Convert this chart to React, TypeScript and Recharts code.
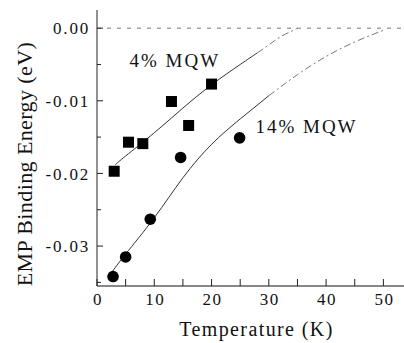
import React from 'react';
import { ComposedChart, XAxis, YAxis, Scatter, Line, ReferenceLine, ReferenceDot, Label } from 'recharts';

// Measured data (Temperature K, EMP binding energy eV)
const mqw4T = [3, 5.5, 8, 13, 16, 20];
const mqw4E = [-0.0197, -0.0157, -0.0159, -0.0101, -0.0134, -0.0077];
const mqw14T = [2.8, 5.0, 9.3, 14.6, 24.9];
const mqw14E = [-0.0342, -0.0315, -0.0263, -0.0178, -0.0151];

// Fit curves
const fit4SolidT = [3.2, 5, 10, 15, 20, 25, 28];
const fit4SolidE = [-0.0188, -0.0176, -0.0144, -0.011, -0.0078, -0.0050, -0.0034];
const fit4DashT = [28, 30, 32, 34, 35];
const fit4DashE = [-0.0034, -0.0023, -0.0012, -0.0004, 0.0];
const fit14SolidT = [2.5, 5, 10, 15, 20, 25, 30];
const fit14SolidE = [-0.0337, -0.0311, -0.0261, -0.0206, -0.0160, -0.0125, -0.0093];
const fit14DashT = [30, 35, 40, 45, 50];
const fit14DashE = [-0.0093, -0.0064, -0.0039, -0.0019, -0.0003];

const xTicks = [0, 5, 10, 15, 20, 25, 30, 35, 40, 45, 50];
const xLabels = ['0', '', '10', '', '20', '', '30', '', '40', '', '50'];
const yTicks = [0, -0.005, -0.01, -0.015, -0.02, -0.025, -0.03, -0.035];
const yLabels = ['0.00', '', '-0.01', '', '-0.02', '', '-0.03', ''];

const toRows = (ts: number[], es: number[]) => ts.map((t, i) => ({ t, e: es[i] }));
const pts4 = toRows(mqw4T, mqw4E);
const pts14 = toRows(mqw14T, mqw14E);
const f4s = toRows(fit4SolidT, fit4SolidE);
const f4d = toRows(fit4DashT, fit4DashE);
const f14s = toRows(fit14SolidT, fit14SolidE);
const f14d = toRows(fit14DashT, fit14DashE);

const FONT = "'Liberation Serif', 'DejaVu Serif', serif";

const YTick = (props: any) => {
  const { x, y, payload } = props;
  const idx = yTicks.indexOf(payload.value);
  const lab = idx >= 0 ? yLabels[idx] : '';
  const ax = x + 8;
  return (
    <g>
      <line x1={ax} x2={ax + (lab ? 6 : 4)} y1={y} y2={y} stroke="#222" strokeWidth={1} />
      {lab ? (
        <text x={x + 1} y={y} dy="0.36em" textAnchor="end" style={{ fontFamily: FONT, fontSize: 17, letterSpacing: 1.8 }} fill="#111">
          {lab}
        </text>
      ) : null}
    </g>
  );
};

const XTick = (props: any) => {
  const { x, y, payload } = props;
  const idx = xTicks.indexOf(payload.value);
  const lab = idx >= 0 ? xLabels[idx] : '';
  return lab ? (
    <text x={x + 1} y={y} dy="0.71em" textAnchor="middle" style={{ fontFamily: FONT, fontSize: 17, letterSpacing: 1.5 }} fill="#111">
      {lab}
    </text>
  ) : (
    <g />
  );
};

const Square = (props: any) => {
  const { cx, cy } = props;
  return <rect x={cx - 5.5} y={cy - 5.5} width={11} height={11} fill="#000" />;
};
const Dot = (props: any) => {
  const { cx, cy } = props;
  return <circle cx={cx} cy={cy} r={5.8} fill="#000" />;
};

const textLabel = (txt: string) => (p: any) => {
  const vb = p.viewBox;
  return (
    <text x={vb.x} y={vb.y} style={{ fontFamily: FONT, fontSize: 19, letterSpacing: 2 }} fill="#111">
      {txt}
    </text>
  );
};

export default function App() {
  return (
    <div style={{ position: 'absolute', left: 0, top: 0, width: 404, height: 343, background: '#fff' }}>
      <ComposedChart width={404} height={343} margin={{ top: 10, right: 0, bottom: 0, left: 0 }}>
        <XAxis
          dataKey="t"
          type="number"
          domain={[0, 53.6]}
          ticks={xTicks}
          allowDataOverflow
          height={57}
          tickSize={-7}
          tickMargin={14}
          tick={<XTick />}
          axisLine={{ stroke: '#111', strokeWidth: 1.2 }}
          tickLine={{ stroke: '#222' }}
          interval={0}
        >
          <Label
            content={(p: any) => {
              const vb = p.viewBox;
              return (
                <text x={vb.x + vb.width / 2 + 6} y={vb.y + 50} textAnchor="middle" style={{ fontFamily: FONT, fontSize: 20, letterSpacing: 1.4 }} fill="#111">
                  Temperature (K)
                </text>
              );
            }}
          />
        </XAxis>
        <XAxis
          xAxisId="top"
          dataKey="t"
          type="number"
          orientation="top"
          domain={[0, 53.6]}
          ticks={xTicks}
          allowDataOverflow
          height={0}
          tickSize={-6}
          tickFormatter={() => ''}
          axisLine={{ stroke: '#555', strokeWidth: 1 }}
          tickLine={{ stroke: '#444' }}
          interval={0}
        />
        <YAxis
          dataKey="e"
          type="number"
          domain={[-0.0355, 0.0025]}
          ticks={yTicks}
          allowDataOverflow
          width={97}
          tickSize={0}
          tickMargin={8}
          tickLine={false}
          tick={<YTick />}
          axisLine={{ stroke: '#222', strokeWidth: 1 }}
          interval={0}
        >
          <Label
            content={(p: any) => {
              const vb = p.viewBox;
              const x = vb.x + 32;
              const y = vb.y + vb.height / 2 + 16;
              return (
                <text x={x} y={y} transform={`rotate(-90, ${x}, ${y})`} textAnchor="middle" style={{ fontFamily: FONT, fontSize: 22, letterSpacing: 0.4 }} fill="#111">
                  EMP Binding Energy (eV)
                </text>
              );
            }}
          />
        </YAxis>
        <ReferenceLine y={0} stroke="#777" strokeDasharray="4 6" strokeWidth={1} />
        <Line data={f4s} dataKey="e" type="natural" stroke="#333" strokeWidth={1} dot={false} isAnimationActive={false} />
        <Line data={f4d} dataKey="e" type="natural" stroke="#777" strokeWidth={1} strokeDasharray="7 3 2 3" dot={false} isAnimationActive={false} />
        <Line data={f14s} dataKey="e" type="natural" stroke="#333" strokeWidth={1} dot={false} isAnimationActive={false} />
        <Line data={f14d} dataKey="e" type="natural" stroke="#777" strokeWidth={1} strokeDasharray="7 3 2 3" dot={false} isAnimationActive={false} />
        <Scatter data={pts4} dataKey="e" shape={<Square />} isAnimationActive={false} />
        <Scatter data={pts14} dataKey="e" shape={<Dot />} isAnimationActive={false} />
        <ReferenceDot x={5.67} y={-0.0053} r={0} fill="none" stroke="none" label={textLabel('4% MQW')} />
        <ReferenceDot x={27.66} y={-0.0144} r={0} fill="none" stroke="none" label={textLabel('14% MQW')} />
      </ComposedChart>
    </div>
  );
}
